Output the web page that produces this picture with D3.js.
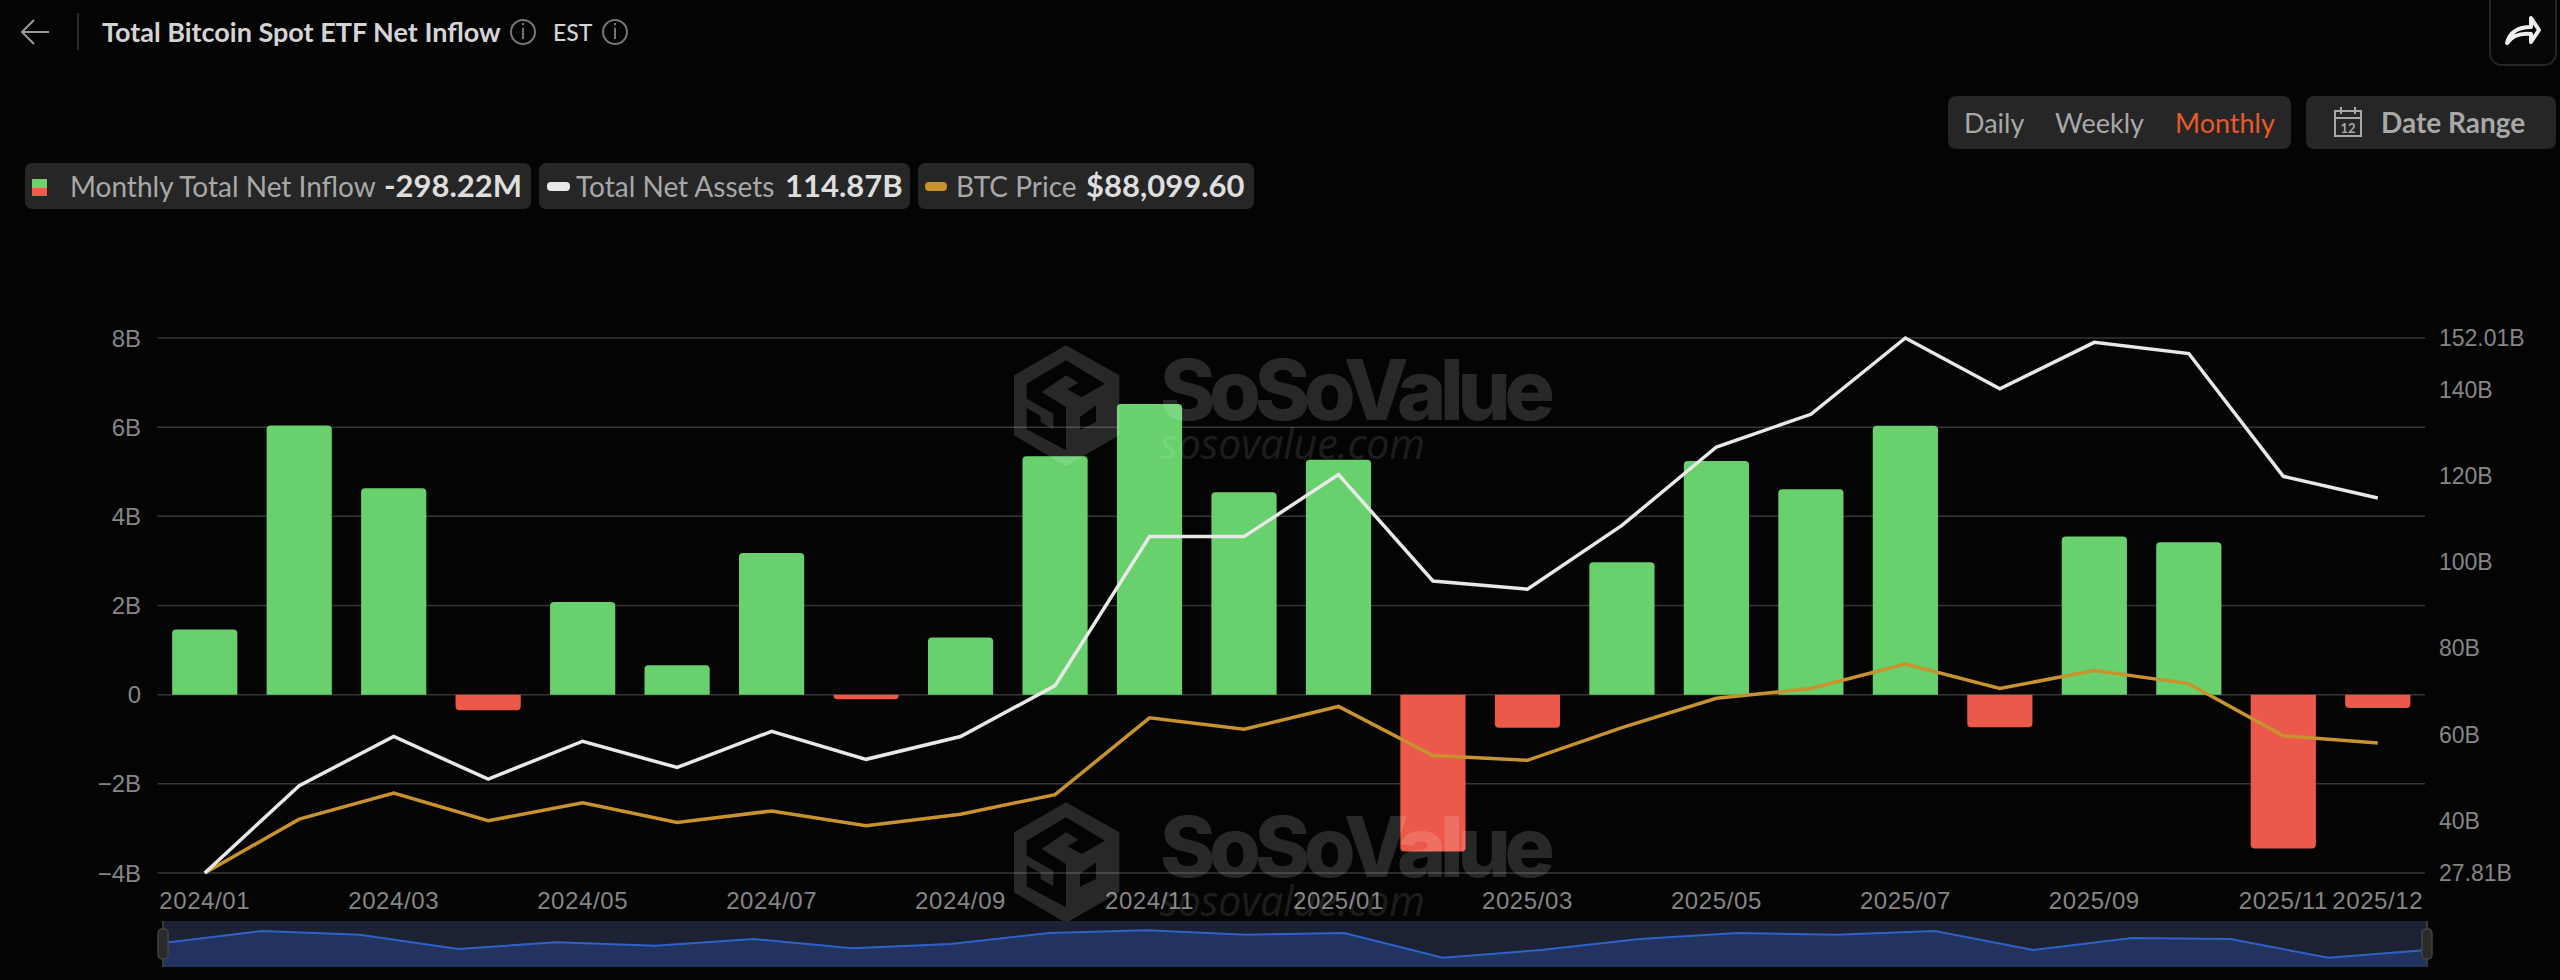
<!DOCTYPE html>
<html>
<head>
<meta charset="utf-8">
<title>Total Bitcoin Spot ETF Net Inflow</title>
<script src="https://cdn.jsdelivr.net/npm/d3@7.9.0/dist/d3.min.js"></script>
<style>
  html, body { margin: 0; padding: 0; background: #040404; overflow: hidden; }
  svg { display: block; }
  text { font-family: Lato, "Noto Sans", sans-serif; }
  .tick { font-family: "Liberation Sans", sans-serif; fill: #868686; }
</style>
</head>
<body>
<div id="chart"></div>
<script>
const months = ['2024/01','2024/02','2024/03','2024/04','2024/05','2024/06','2024/07','2024/08','2024/09','2024/10','2024/11','2024/12',
  '2025/01','2025/02','2025/03','2025/04','2025/05','2025/06','2025/07','2025/08','2025/09','2025/10','2025/11','2025/12'];
const netInflow = [1.46,6.04,4.63,-0.35,2.08,0.66,3.18,-0.1,1.28,5.35,6.52,4.54,5.27,-3.52,-0.74,2.97,5.24,4.61,6.03,-0.73,3.55,3.42,-3.45,-0.298];
const netAssets = [27.81,48.1,59.5,49.6,58.4,52.3,60.7,54.2,59.5,71.3,105.9,105.9,120.3,95.6,93.7,108.5,126.7,134.3,152.01,140.2,151,148.4,119.9,114.87];
const btcPrice = [42580,61456,70608,60884,67176,60312,64316,59168,63172,70036,96920,92916,100924,83764,82048,93488,103784,107216,115796,107216,113508,108932,90628,88099.6];
const overview = [52,78,70,39,54,46,61,41,50,74,80,70,74,20,37,61,74,70,78,37,63,61,20,37];
const xTickLabels = ['2024/01','2024/03','2024/05','2024/07','2024/09','2024/11','2025/01','2025/03','2025/05','2025/07','2025/09','2025/11','2025/12'];
const leftTicks = [-4,-2,0,2,4,6,8];
const rightTicks = [27.81,40,60,80,100,120,140,152.01];

const W = 2560, H = 980;
const svg = d3.select('#chart').append('svg').attr('width', W).attr('height', H).attr('viewBox', `0 0 ${W} ${H}`);

const x = d3.scaleBand().domain(months).range([157.5, 2425]).paddingInner(0.31).paddingOuter(0.155);
const cx = (d) => x(d) + x.bandwidth() / 2;
const yLeft = d3.scaleLinear().domain([-4, 8]).range([873, 338]);
const yRight = d3.scaleLinear().domain([27.81, 152.01]).range([873, 338]);
const yBtc = d3.scaleLinear().domain([42580, 230000]).range([873, 338]);

/* grid + axes */
svg.append('g').selectAll('line').data(leftTicks).join('line')
  .attr('x1', 157.5).attr('x2', 2425)
  .attr('y1', (d) => yLeft(d)).attr('y2', (d) => yLeft(d))
  .attr('stroke', '#363636').attr('stroke-width', 1.5);

const fmtLeft = (d) => (d < 0 ? '\u2212' + -d : d) + (d === 0 ? '' : 'B');
svg.append('g').selectAll('text').data(leftTicks).join('text')
  .attr('class', 'tick')
  .attr('x', 141).attr('y', (d) => yLeft(d)).attr('dy', '0.36em')
  .attr('text-anchor', 'end').attr('font-size', 24)
  .text(fmtLeft);

svg.append('g').selectAll('text').data(rightTicks).join('text')
  .attr('class', 'tick')
  .attr('x', 2439).attr('y', (d) => yRight(d)).attr('dy', '0.36em')
  .attr('font-size', 23)
  .text((d) => d + 'B');

svg.append('g').selectAll('text').data(xTickLabels).join('text')
  .attr('class', 'tick')
  .attr('x', (d) => cx(d)).attr('y', 909)
  .attr('text-anchor', 'middle').attr('font-size', 24).attr('letter-spacing', 0.6)
  .text((d) => d);

/* bars */
function barPath(d, i) {
  const v = netInflow[i];
  const x0 = x(d), w = x.bandwidth();
  const y0 = yLeft(0), y1 = yLeft(v);
  const r = Math.min(4, Math.abs(y1 - y0));
  const s = v >= 0 ? 1 : -1;
  return `M${x0},${y0}V${y1 + s * r}Q${x0},${y1} ${x0 + r},${y1}H${x0 + w - r}Q${x0 + w},${y1} ${x0 + w},${y1 + s * r}V${y0}Z`;
}
svg.append('g').selectAll('path').data(months).join('path')
  .attr('d', barPath)
  .attr('fill', (d, i) => (netInflow[i] >= 0 ? '#68D16D' : '#EC5849'));

/* lines */
const line = (yScale, values) => d3.line().x((d) => cx(d)).y((d, i) => yScale(values[i]));
svg.append('path').attr('d', line(yBtc, btcPrice)(months))
  .attr('fill', 'none').attr('stroke', '#C8922F').attr('stroke-width', 3.5);
svg.append('path').attr('d', line(yRight, netAssets)(months))
  .attr('fill', 'none').attr('stroke', '#E8E8E8').attr('stroke-width', 3.5);

/* watermark */
function watermark(dy) {
  const g = svg.append('g').attr('transform', `translate(0,${dy})`).attr('opacity', 0.14).attr('fill', '#fff');
  g.append('path')
    .attr('transform', 'translate(1010,342) scale(0.3333)')
    .attr('fill-rule', 'evenodd')
    .attr('d', 'M168,10L328,100V280L168,372L12,280V100Z'
      + 'M50,125L168,55L285,125L215,165L172,142L205,122L168,100L95,150L168,195V325L50,262V198L92,222V240L130,262V215L50,170Z'
      + 'M210,225L258,190V240L210,263Z');
  g.append('text').attr('x', 1160).attr('y', 420).attr('font-size', 84).attr('font-weight', 800)
    .attr('textLength', 395).attr('lengthAdjust', 'spacing')
    .style('font-family', 'Inter').text('SoSoValue');
  g.append('text').attr('x', 1160).attr('y', 459).attr('font-size', 42).attr('font-style', 'italic')
    .attr('textLength', 265).attr('lengthAdjust', 'spacingAndGlyphs')
    .attr('opacity', 0.7).style('font-family', '"Open Sans"').text('sosovalue.com');
}
watermark(0);
watermark(457);

/* overview slider */
const sx = d3.scalePoint().domain(months).range([163, 2427]);
const sy = d3.scaleLinear().domain([0, 100]).range([967, 921]);
svg.append('rect').attr('x', 163).attr('y', 921).attr('width', 2264).attr('height', 46).attr('fill', '#1C2233');
svg.append('path')
  .attr('d', d3.area().x((d) => sx(d)).y0(967).y1((d, i) => sy(overview[i]))(months))
  .attr('fill', '#21335E');
svg.append('path')
  .attr('d', d3.line().x((d) => sx(d)).y((d, i) => sy(overview[i]))(months))
  .attr('fill', 'none').attr('stroke', '#2F62C8').attr('stroke-width', 2);
[163, 2427].forEach((hx) => {
  svg.append('line').attr('x1', hx).attr('x2', hx).attr('y1', 921).attr('y2', 967).attr('stroke', '#3a3a3a').attr('stroke-width', 2);
  svg.append('rect').attr('x', hx - 5).attr('y', 929).attr('width', 10).attr('height', 30).attr('rx', 4)
    .attr('fill', '#2a2a2a').attr('stroke', '#444').attr('stroke-width', 1.5);
});

/* header */
const grey = '#a8a8a8';
svg.append('path').attr('d', 'M49,32H23M34,20L22,32L34,44').attr('fill', 'none').attr('stroke', '#9a9a9a').attr('stroke-width', 2);
svg.append('line').attr('x1', 78).attr('x2', 78).attr('y1', 13).attr('y2', 50).attr('stroke', '#2a2a2a').attr('stroke-width', 2);
svg.append('text').attr('x', 102).attr('y', 42).attr('font-size', 27).attr('font-weight', 700).attr('fill', '#d4d4d4')
  .text('Total Bitcoin Spot ETF Net Inflow');
svg.append('text').attr('x', 553).attr('y', 41).attr('font-size', 23).attr('font-weight', 500).attr('fill', '#d4d4d4').text('EST');
[523, 615].forEach((ix) => {
  svg.append('circle').attr('cx', ix).attr('cy', 32).attr('r', 12).attr('fill', 'none').attr('stroke', '#777').attr('stroke-width', 2);
  svg.append('path').attr('d', `M${ix},28V39M${ix},23V25`).attr('stroke', '#777').attr('stroke-width', 2);
});

/* legend pills */
const pills = [[25, 506], [539, 371], [918, 336]];
svg.append('g').selectAll('rect').data(pills).join('rect')
  .attr('x', (d) => d[0]).attr('y', 163).attr('width', (d) => d[1]).attr('height', 46).attr('rx', 7).attr('fill', '#262626');
svg.append('rect').attr('x', 32).attr('y', 179).attr('width', 15).attr('height', 9).attr('fill', '#6AD36E');
svg.append('rect').attr('x', 32).attr('y', 188).attr('width', 15).attr('height', 8).attr('fill', '#EF5A4A');
svg.append('rect').attr('x', 547).attr('y', 182).attr('width', 23).attr('height', 9).attr('rx', 4).attr('fill', '#E8E8E8');
svg.append('rect').attr('x', 925).attr('y', 182).attr('width', 22).attr('height', 9).attr('rx', 4).attr('fill', '#C8922F');
const legendText = [
  [70, 'Monthly Total Net Inflow', 400, grey], [384, '-298.22M', 700, '#dedede'],
  [576, 'Total Net Assets', 400, grey], [785, '114.87B', 700, '#dedede'],
  [956, 'BTC Price', 400, grey], [1086, '$88,099.60', 700, '#dedede']];
svg.append('g').selectAll('text').data(legendText).join('text')
  .attr('x', (d) => d[0]).attr('y', 197).attr('font-size', (d) => (d[2] === 700 ? 31 : 28))
  .attr('font-weight', (d) => d[2]).attr('fill', (d) => d[3]).text((d) => d[1]);

/* period + date range */
svg.append('rect').attr('x', 1948).attr('y', 96).attr('width', 343).attr('height', 53).attr('rx', 8).attr('fill', '#262626');
svg.append('rect').attr('x', 2306).attr('y', 96).attr('width', 250).attr('height', 53).attr('rx', 8).attr('fill', '#262626');
[[1964, 'Daily', grey], [2055, 'Weekly', grey], [2175, 'Monthly', '#E85A2A']].forEach((d) => {
  svg.append('text').attr('x', d[0]).attr('y', 133).attr('font-size', 27).attr('fill', d[2]).text(d[1]);
});
svg.append('text').attr('x', 2381).attr('y', 133).attr('font-size', 28).attr('font-weight', 700).attr('fill', grey).text('Date Range');
svg.append('path').attr('d', 'M2335,111H2361V136H2335ZM2335,118H2361M2341,107V114M2355,107V114').attr('fill', 'none').attr('stroke', grey).attr('stroke-width', 2);
svg.append('text').attr('x', 2348).attr('y', 133).attr('text-anchor', 'middle').attr('font-size', 13).attr('font-weight', 700).attr('fill', grey).text('12');

/* share button */
svg.append('rect').attr('x', 2490).attr('y', -10).attr('width', 66).attr('height', 75).attr('rx', 12).attr('fill', '#060606').attr('stroke', '#252525').attr('stroke-width', 2);
svg.append('path').attr('d', 'M2507,43C2510,31 2520,27 2531,27V18L2539,30L2531,42V34C2521,33 2512,36 2507,43Z').attr('fill', 'none').attr('stroke', '#eee').attr('stroke-width', 4).attr('stroke-linejoin', 'round');
</script>
</body>
</html>
